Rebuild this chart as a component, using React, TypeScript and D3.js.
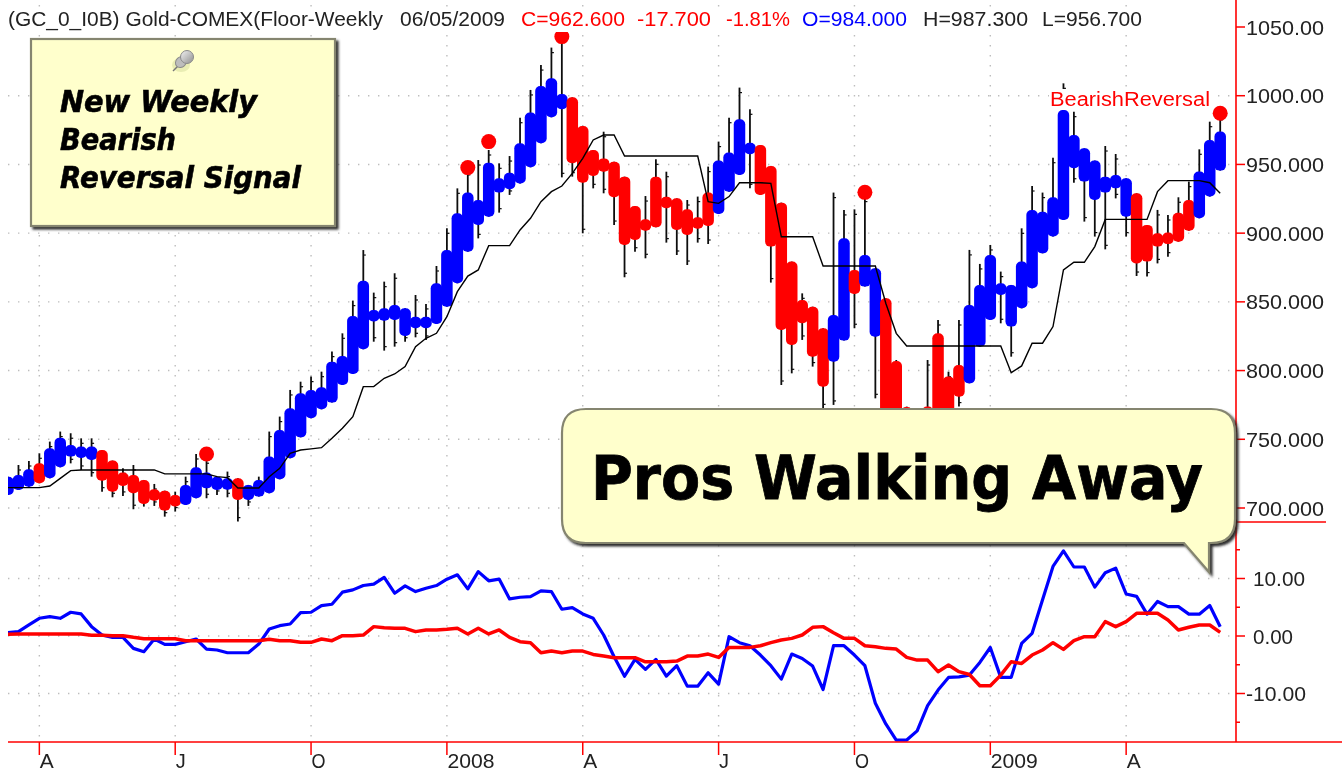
import React from 'react';
import * as d3 from 'd3';

const bodyTop = [722.8,724,728.2,732.5,743.5,751.2,745.9,744.7,744.7,742.2,734.5,725.8,724,720.4,713.6,712.6,709.5,716.8,729.6,725.8,722.8,721.6,721.6,716.8,720.4,737.4,756.8,772.5,783.5,785.9,787.8,806.5,810.6,839.7,865.4,844.1,845.3,847.7,845.3,839.2,839.2,863.5,887.7,914.4,929.5,924.1,951.3,939.9,944,965.4,987.7,1007.1,1012.7,1001.3,998.8,978,960.5,954.4,952,941.1,919.8,910.1,941.1,926.5,925.3,917.3,911.5,929.5,952.8,958.6,982.8,965.8,964.1,948.9,922.2,879.3,851.4,846.5,830.8,840.5,896.2,873.2,884.1,874.4,852.6,807,773.5,760,773.8,827.1,795.6,804.1,847.7,862.3,884.1,863.5,862.3,879.3,916.9,915.6,926.1,989.6,971.4,961.7,952.8,941.1,942.3,939.9,929,906,899.9,900.4,914.9,924.1,944.8,967.8,973.9];
const bodyBottom = [709.5,713.1,715.5,718,721.6,729.6,737.4,737.9,735,719.9,711.9,716,710.7,702.9,705.4,698.1,702.2,702.2,707.1,714.3,713.1,714.3,705.9,705.9,708.3,710.7,720.9,736.2,751.4,765.3,771.8,776.7,789.5,797.5,815.5,836.3,836.3,836.8,825.2,832.5,832.5,833.9,846.5,863.5,886.5,905.9,912,929.5,931.9,936.2,947.9,965.4,984.3,990.1,950.8,936.7,941.6,944.7,926.1,891.4,895,903.5,904.2,919.3,902.3,898.7,905.2,905.2,913.9,930.2,942.3,958.6,927.8,890.2,829.5,818.6,834.4,810.1,788.3,806.5,821.8,855.7,861.1,824.7,745,750,735,735,730,760,765,781,790.7,817.4,836.8,855,832,845.3,859.9,885.3,897.5,909.6,947.2,937.5,924.1,929.5,932.6,912,878,879.3,890.2,892.6,893.8,901.8,910.8,926.6,945.5];
const highs = [722.8,731.3,734.2,739.8,748.3,755.6,754.4,750.7,750.7,742.2,734.5,728.9,731.3,720.4,717.5,712.6,711.9,722.8,739.3,736.2,722.8,726.5,721.6,716.8,722.8,755.6,766.5,785.9,791.9,795.6,799.2,813.8,827.1,850.9,887.7,856.7,864.7,870.8,845.3,855,848.5,876.1,903.5,932.6,946,953.2,960.5,950.8,956.1,984,1004.2,1022.3,1035,1043,998.8,978,960.5,973.8,952,941.1,919.8,927,953.7,944.7,925.3,924.1,926.6,948.4,966.6,984,1005.9,990.1,964.1,948.9,922.2,879.3,856.2,846.5,830.8,929.5,916.9,917.3,926.6,874.4,852.6,807.7,773.8,770,807.7,836.8,799.2,836.8,887.8,877.6,891.4,872,862.3,903.5,934.3,929.5,954.9,1009,988.4,961.7,952.8,963.4,957.6,939.9,929,906,916.9,913.2,926.1,937.5,961,981.1,986];
const lows = [709.5,713.1,715.5,718,721.6,729.6,732.5,727.7,722.8,711.9,707.8,708.8,699.1,701,701.5,693.7,697.4,702.2,707.1,707.1,709.5,707.8,690.1,701.5,708.3,710.7,720.9,736.2,751.4,765.3,771.8,776.7,789.5,797.5,815.5,821,814.5,817.4,821,824.2,822.3,833.9,846.5,863.5,886.5,896.2,912,914.9,927.8,936.2,947.9,965.4,984.3,940.6,941.1,899.9,932.6,929,905.9,867.9,886.5,881.7,904.2,893.1,884.1,876.8,893.1,892.1,913.9,930.2,942.3,932.6,927.8,864,789.5,798,822.3,802.9,772.5,775,821.8,830.8,861.1,779.8,725,730,715,720,715,740,750,773.8,790.7,817.4,836.8,834.4,810.1,845.3,859.9,885.3,897.5,909.6,936.7,908.4,897.5,888.2,925.3,897.5,868.8,868.4,878,882.9,893.8,901.8,910.8,926.6,945.5];
const stopLine = [714.8,714.8,714.8,714.8,716,721.6,727.2,727.7,727.7,727.7,727.7,727.7,727.7,727.7,727.7,724.8,724.8,724.8,724.8,724.8,722.8,722.1,714.6,714.6,714.6,722.8,728.9,739.8,742.2,743,743.9,750.7,758,766.5,788.3,788.3,794.4,797.5,802.9,817.4,823.5,827.1,839.2,857.4,868.8,873.2,890.9,890.9,890.9,902.3,910.8,922.9,930.2,934.3,943.5,954.4,967.8,971.4,971.4,956.1,956.1,956.1,956.1,956.1,956.1,956.1,956.1,922.9,921.7,926.6,936.7,936.7,936.7,936.2,897.4,897.4,897.4,897.4,876.1,876.1,876.1,876.1,876.1,876.1,849,827.1,817.9,817.9,817.9,817.9,817.9,817.9,817.9,817.9,817.9,817.9,798.5,803.4,819.9,819.9,832,873.2,878.8,878.8,890.2,910,910,910,910,910,930.2,938.2,938.2,938.2,938.2,936.7,929];
const oscFast = [.58,.76,1.92,3.08,3.37,3.08,4.13,3.84,1.63,.17,-.23,-.23,-2.15,-2.73,-.52,-1.45,-1.45,-.99,-.52,-2.27,-2.44,-2.91,-2.91,-2.91,-1.4,1.22,1.8,2.09,4.07,4.13,5.29,5.52,7.62,8.02,8.78,9.01,10.2,7.44,8.72,7.73,8.31,8.78,9.88,10.64,8.2,11.2,9.6,9.9,6.45,6.74,6.86,7.85,7.73,4.65,4.94,3.84,3.08,.17,-3.6,-7,-4.07,-5.8,-4.07,-6.98,-5.17,-8.72,-8.72,-6.4,-8.37,-.12,-1.16,-1.69,-3.31,-5.17,-7.5,-3.14,-3.9,-5.23,-9.3,-1.69,-1.69,-3.31,-5.17,-11.7,-15.3,-18.1,-18.1,-16.5,-12.1,-9.4,-7.2,-7.1,-6.8,-4.6,-2,-7.2,-7.2,-1.3,.47,6.3,12.1,14.8,12,12,8.5,11,11.8,7.3,6.9,3.8,6,5.1,5.1,3.8,3.8,5.3,1.6];
const oscSlow = [.29,.35,.35,.35,.35,.35,.35,.35,.12,.12,.06,.06,-.23,-.47,-.47,-.47,-.47,-.81,-.81,-.81,-.81,-.81,-.81,-.81,-.81,-.58,-.81,-.81,-1.1,-1.1,-.52,-.81,.06,.06,.17,1.63,1.45,1.34,1.34,.76,1.05,1.05,1.16,1.34,.35,1.34,.35,1.05,-.23,-.99,-1.16,-2.91,-2.62,-2.91,-2.62,-2.62,-3.2,-3.49,-3.78,-3.78,-3.78,-4.48,-4.48,-4.48,-4.36,-3.49,-3.49,-3.14,-3.72,-1.98,-1.98,-1.98,-1.69,-1.16,-.7,-.41,.17,1.51,1.63,.58,-.41,-.41,-1.69,-1.86,-2.15,-2.27,-3.72,-4.19,-4.19,-6.2,-5.06,-6.2,-6.69,-8.66,-8.66,-6.8,-4.48,-4.77,-3.31,-2.44,-1.16,-2.33,-.81,-.12,-.12,2.5,1.63,2.5,3.95,3.95,3.95,2.79,1.05,1.51,1.92,1.92,.64];
const redBars = [3,9,10,11,12,13,14,15,16,22,54,55,56,57,58,59,60,61,62,63,64,65,66,67,72,73,74,75,76,77,78,81,84,85,86,87,88,89,90,91,108,109,110,111,112,113];
const signalIndex = [19,44,46,53,82,116];
const signalPrice = [739.3,947.7,966.6,1043,929.7,987.2];
const priceTicks = [1050,1000,950,900,850,800,750,700];
const priceLabels = ['1050.00','1000.00','950.000','900.000','850.000','800.000','750.000','700.000'];
const oscTicks = [10,0,-10];
const oscLabels = ['10.00','0.00','-10.00'];
const oscMinor = [15,5,-5,-15];
const timeIndex = [3,16,29,42,55,68,81,94,107];
const timeLabels = ['A','J','O','2008','A','J','O','2009','A'];
const noteLines = ['New Weekly','Bearish','Reversal Signal'];

const x = d3.scaleLinear().domain([0, 116]).range([8, 8 + 116 * 10.45]);
const yP = d3.scaleLinear().domain([700, 1050]).range([508, 27]);
const yO = d3.scaleLinear().domain([-10, 10]).range([693.5, 578.5]);
const SANS = '"Liberation Sans", Arial, sans-serif';
const HEAVY = '"DejaVu Sans", Verdana, sans-serif';
const BLUE = '#0000ff';
const RED = '#ff0000';
const GRID = '#bdbdbd';

const stopPath = d3.line<number>().x((_, i) => x(i)).y(d => yP(d))(stopLine) as string;
const oscPath = d3.line<number>().x((_, i) => x(i)).y(d => yO(d));

function T(p: any) {
  const { fs = 18, fill = '#000', ff = SANS, children, ...r } = p;
  return <text fontFamily={ff} fontSize={fs} fill={fill} lengthAdjust="spacingAndGlyphs" {...r}>{children}</text>;
}

const calloutPath = (() => {
  const p = d3.path();
  const l = 562, t = 409, rg = 1235, b = 543, c = 24;
  p.moveTo(l + c, t);
  p.lineTo(rg - c, t);
  p.quadraticCurveTo(rg, t, rg, t + c);
  p.lineTo(rg, b - c);
  p.quadraticCurveTo(rg, b, rg - c, b);
  p.lineTo(1209, b);
  p.lineTo(1209, 572);
  p.lineTo(1184, b);
  p.lineTo(l + c, b);
  p.quadraticCurveTo(l, b, l, b - c);
  p.lineTo(l, t + c);
  p.quadraticCurveTo(l, t, l + c, t);
  p.closePath();
  return p.toString();
})();

export default function App() {
  const bw = 11.5;
  return (
    <svg width={1342} height={776} viewBox="0 0 1342 776" style={{ position: 'fixed', left: 0, top: 0, background: '#fff' }}>
      <defs>
        <clipPath id="plot"><rect x={8} y={0} width={1228} height={742} /></clipPath>
        <filter id="soft" filterUnits="userSpaceOnUse" x={0} y={0} width={1342} height={776}>
          <feGaussianBlur stdDeviation={0.5} />
        </filter>
        <filter id="shadow" x="-5%" y="-5%" width="112%" height="115%">
          <feDropShadow dx={2.5} dy={2.5} stdDeviation={1.2} floodColor="#222" floodOpacity={0.95} />
        </filter>
        <linearGradient id="pin" x1="0" y1="0" x2="1" y2="1">
          <stop offset="0" stopColor="#f2f2f2" />
          <stop offset="1" stopColor="#8e8e8e" />
        </linearGradient>
      </defs>
      <g filter="url(#soft)">
        {timeIndex.map(i => (
          <line key={i} x1={x(i)} x2={x(i)} y1={5} y2={742} stroke={GRID} strokeWidth={1.4} strokeDasharray="1.4 8.6" />
        ))}
        {priceTicks.slice(1).map(v => (
          <line key={v} x1={8} x2={1236} y1={yP(v)} y2={yP(v)} stroke={GRID} strokeWidth={1.4} strokeDasharray="1.4 8.6" />
        ))}
        {oscTicks.map(v => (
          <line key={v} x1={8} x2={1236} y1={yO(v)} y2={yO(v)} stroke={GRID} strokeWidth={1.4} strokeDasharray="1.4 8.6" />
        ))}

        <g clipPath="url(#plot)">
          {highs.map((h, i) => {
            const px = x(i);
            const hasTop = h > bodyTop[i] + 1;
            const hasBot = lows[i] < bodyBottom[i] - 1;
            return (
              <g key={i} stroke="#111">
                <line x1={px} x2={px} y1={yP(h)} y2={yP(lows[i])} strokeWidth={1.8} />
                {hasTop && <line x1={px} x2={px + 2.5} y1={yP(h) + 5} y2={yP(h) + 5} strokeWidth={1.2} />}
                {hasBot && <line x1={px} x2={px + 2.5} y1={yP(lows[i]) - 4} y2={yP(lows[i]) - 4} strokeWidth={1.2} />}
              </g>
            );
          })}
          {bodyTop.map((top, i) => {
            const y0 = yP(top);
            const y1 = yP(bodyBottom[i]);
            return (
              <rect key={i} x={x(i) - bw / 2} width={bw} y={y0} height={Math.max(y1 - y0, bw)} rx={5} ry={5}
                fill={redBars.includes(i) ? RED : BLUE} />
            );
          })}
          <path d={stopPath} fill="none" stroke="#000" strokeWidth={1.4} />
          {signalIndex.map((i, k) => (
            <circle key={i} cx={x(i)} cy={yP(signalPrice[k])} r={7.5} fill={RED} />
          ))}
        </g>

        <rect x={8} y={12} width={1136} height={20} fill="#fff" />
        <T x={8} y={26} fs={20} fill="#222" textLength={375}>(GC_0_I0B) Gold-COMEX(Floor-Weekly</T>
        <T x={400} y={26} fs={20} fill="#222" textLength={105}>06/05/2009</T>
        <T x={521} y={26} fs={20} fill={RED} textLength={104}>C=962.600</T>
        <T x={637} y={26} fs={20} fill={RED} textLength={74}>-17.700</T>
        <T x={726} y={26} fs={20} fill={RED} textLength={64}>-1.81%</T>
        <T x={802} y={26} fs={20} fill={BLUE} textLength={105}>O=984.000</T>
        <T x={923} y={26} fs={20} fill="#222" textLength={105}>H=987.300</T>
        <T x={1042} y={26} fs={20} fill="#222" textLength={100}>L=956.700</T>

        <rect x={1049} y={89} width={162} height={21} fill="#fff" />
        <T x={1050} y={106} fs={20} fill={RED} textLength={160}>BearishReversal</T>

        <g clipPath="url(#plot)">
          <path d={oscPath(oscFast) as string} fill="none" stroke={BLUE} strokeWidth={3.2} strokeLinejoin="round" />
          <path d={oscPath(oscSlow) as string} fill="none" stroke={RED} strokeWidth={3.5} strokeLinejoin="round" />
        </g>

        <line x1={1236} x2={1236} y1={0} y2={742} stroke={RED} strokeWidth={1.6} />
        <line x1={8} x2={1342} y1={742} y2={742} stroke={RED} strokeWidth={1.6} />
        <line x1={1236} x2={1326} y1={522} y2={522} stroke={RED} strokeWidth={1.6} />
        {priceTicks.map((v, i) => (
          <g key={v}>
            <line x1={1236} x2={1245} y1={yP(v)} y2={yP(v)} stroke={RED} strokeWidth={1.5} />
            <T x={1246} y={yP(v) + 7.5} fs={21} fill="#222" textLength={78}>{priceLabels[i]}</T>
          </g>
        ))}
        {oscTicks.map((v, i) => (
          <g key={v}>
            <line x1={1236} x2={1245} y1={yO(v)} y2={yO(v)} stroke={RED} strokeWidth={1.5} />
            <T x={v < 0 ? 1246 : 1253} y={yO(v) + 7.5} fs={21} fill="#222" textLength={v === 10 ? 52 : v === 0 ? 40 : 60}>{oscLabels[i]}</T>
          </g>
        ))}
        {oscMinor.map(v => (
          <line key={v} x1={1236} x2={1240} y1={yO(v)} y2={yO(v)} stroke={RED} strokeWidth={1.5} />
        ))}
        {timeIndex.map((i, k) => (
          <g key={i}>
            <line x1={x(i)} x2={x(i)} y1={742} y2={755} stroke={RED} strokeWidth={1.5} />
            <T x={x(i) + 0.5} y={768} fs={20} fill="#222" textLength={timeLabels[k].length > 1 ? 47 : timeLabels[k] === 'J' ? 10 : 14}>{timeLabels[k]}</T>
          </g>
        ))}

        <rect x={31} y={39} width={304} height={187} fill="#ffffcc" stroke="#85856f" strokeWidth={2.2} filter="url(#shadow)" />
        <g>
          <ellipse cx={181} cy={65} rx={9} ry={7} fill="#dfe6a8" opacity={0.7} />
          <line x1={180} x2={173} y1={64} y2={71} stroke="#777" strokeWidth={1.5} />
          <ellipse cx={181} cy={62} rx={5} ry={6} transform="rotate(45 181 62)" fill="#bdbdbd" stroke="#8a8a8a" />
          <circle cx={187} cy={57} r={6.5} fill="url(#pin)" stroke="#8a8a8a" />
        </g>
        {noteLines.map((s, i) => (
          <T key={s} x={60} y={112 + i * 38.2} fs={30} ff={HEAVY} fontWeight="bold" fontStyle="italic"
            stroke="#000" strokeWidth={0.6} textLength={[197, 116, 241][i]}>{s}</T>
        ))}

        <path d={calloutPath} fill="#ffffcc" stroke="#85856f" strokeWidth={2.2} filter="url(#shadow)" />
        <T x={591} y={499} fs={60} ff={HEAVY} fontWeight="bold" stroke="#000" strokeWidth={0.8} textLength={612}>Pros Walking Away</T>
      </g>
    </svg>
  );
}
